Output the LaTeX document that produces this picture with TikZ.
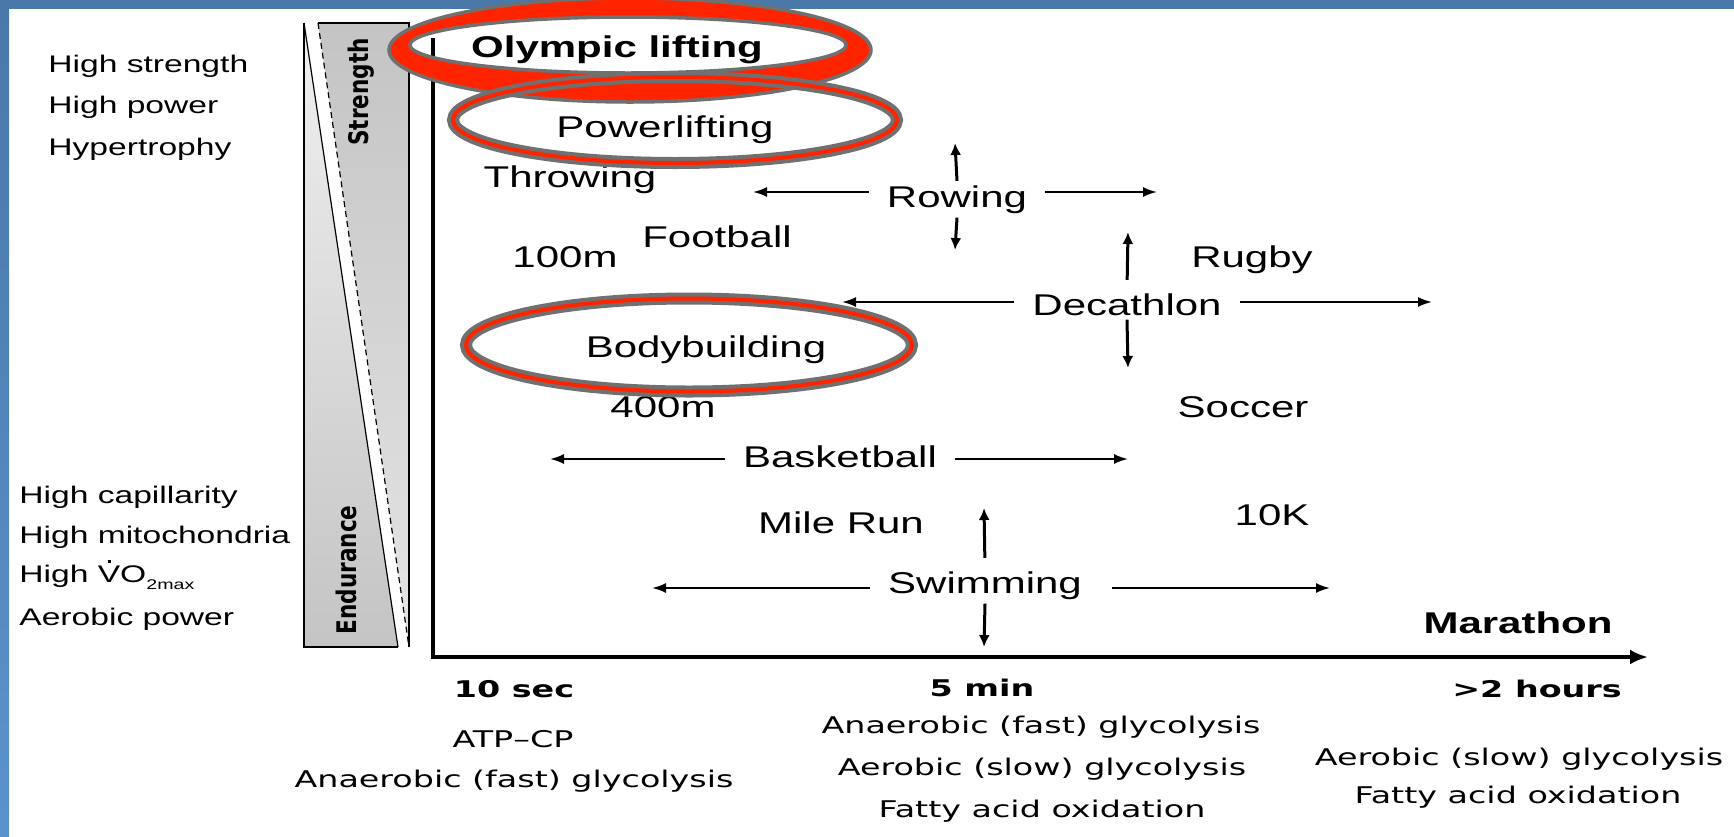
\documentclass[tikz,border=0pt]{standalone}
\usepackage{fontspec}
\setmainfont{Liberation Sans}[FakeStretch=1.4]
\newfontfamily\timefont{DejaVu Sans}[FakeStretch=1.45]
\newfontfamily\barfont{DejaVu Sans}
\usepackage{xcolor}
\definecolor{SlideBlue}{RGB}{74, 120, 168}
\definecolor{SlideBlueLight}{RGB}{92, 146, 204}
\definecolor{RingRed}{RGB}{255, 36, 0}
\definecolor{RingGray}{RGB}{112, 112, 112}
\definecolor{BarGray}{RGB}{196, 196, 196}
\usetikzlibrary{arrows.meta, calc}

\newcommand{\vodot}{\makebox[0pt][l]{\hspace{0.41em}\smash{\raisebox{0.8em}{\rule{1.5pt}{1.2pt}}}}VO\raisebox{-0.3em}{\fontsize{7}{8}\selectfont 2max}}

\begin{document}
\begin{tikzpicture}[
        x=0.5pt, y=-0.5pt,
        lbl/.style={font=\fontsize{15}{18}\selectfont, inner xsep=9pt, inner ysep=2pt, anchor=base},
        lblb/.style={lbl, font=\fontsize{15}{18}\selectfont\bfseries},
        side/.style={font=\fontsize{12}{14}\selectfont, anchor=base west, inner sep=0pt},
        time/.style={font=\timefont\bfseries\fontsize{11.5}{14}\selectfont, anchor=base, inner sep=0pt},
        fuel/.style={font=\timefont\fontsize{11.5}{14}\selectfont, anchor=base, inner sep=0pt},
        bartext/.style={font=\barfont\bfseries\fontsize{10.8}{13}\selectfont, rotate=90, inner sep=0pt},
        ring/.style={draw=RingGray, line width=2pt, double=RingRed, double distance=2pt},
        arr/.style={-{Latex[length=7pt, width=5pt]}, line width=1pt},
        varr/.style={-{Latex[length=6pt, width=5.5pt]}, line width=1.5pt},
        axis/.style={-{Latex[length=9pt, width=7.5pt]}, line width=2.2pt}
    ]
        \useasboundingbox (0,0) rectangle (1734,836);
        \fill[white] (0,0) rectangle (1734,836);

        % --- SLIDE FRAME ---
        \fill[SlideBlue] (0,0) rectangle (1734,9);
        \shade[top color=SlideBlue, bottom color=SlideBlueLight] (0,0) rectangle (9,836);

        % --- STRENGTH / ENDURANCE BAR ---
        \shade[top color=BarGray, bottom color=BarGray!45] (318,23) -- (409,23) -- (409,647) -- cycle;
        \shade[top color=BarGray!25, bottom color=BarGray] (304,23) -- (304,647) -- (398,647) -- cycle;
        \draw[line width=0.6pt] (318,23) -- (409,23) -- (409,647);
        \draw[line width=0.6pt] (304,23) -- (304,647) -- (398,647);
        \draw[line width=0.6pt] (304,23) -- (398,647);
        \draw[line width=0.6pt, dash pattern=on 3pt off 2pt] (318,23) -- (409,647);
        \node[bartext] (strength) at (361,92) {\scalebox{1}[1.25]{Strength}};
        \node[bartext] (endurance) at (346,570) {\scalebox{1}[1.25]{Endurance}};

        % --- FIBRE PROPERTIES ---
        \node[side] (hstr) at (48,72) {High strength};
        \node[side] (hpow) at (48,113) {High power};
        \node[side] (hyp) at (48,155) {Hypertrophy};
        \node[side] (hcap) at (19,503) {High capillarity};
        \node[side] (hmit) at (19,543) {High mitochondria};
        \node[side] (hvo) at (19,582) {High \vodot};
        \node[side] (aerp) at (19,625) {Aerobic power};

        % --- AXES ---
        \coordinate (axTop) at (433,38);
        \coordinate (axOrig) at (433,657);
        \coordinate (axEnd) at (1648,657);
        \draw[axis] (axTop) -- (axOrig) -- (axEnd);

        % --- SPORTS ---
        \node[lblb] (olympic) at (617,57) {Olympic lifting};
        \node[lbl] (power) at (665,137) {Powerlifting};
        \node[lbl] (throw) at (570,187) {Throwing};
        \node[lbl] (rowing) at (957,207) {Rowing};
        \node[lbl] (football) at (717,247) {Football};
        \node[lbl] (hundred) at (565,267) {100m};
        \node[lbl] (rugby) at (1252,267) {Rugby};
        \node[lbl] (deca) at (1127,315) {Decathlon};
        \node[lbl] (body) at (706,357) {Bodybuilding};
        \node[lbl] (fourh) at (663,417) {400m};
        \node[lbl] (soccer) at (1243,417) {Soccer};
        \node[lbl] (basket) at (840,467) {Basketball};
        \node[lbl] (mile) at (841,533) {Mile Run};
        \node[lbl] (tenk) at (1272,525) {10K};
        \node[lbl] (swim) at (985,593) {Swimming};
        \node[lblb] (marathon) at (1518,633) {Marathon};

        % --- RANGES ---
        \coordinate (rowL) at (753,192);
        \coordinate (rowR) at (1157,192);
        \coordinate (rowU) at (955,143);
        \coordinate (rowD) at (955,250);
        \draw[arr] (rowing.west |- rowL) -- (rowL);
        \draw[arr] (rowing.east |- rowR) -- (rowR);
        \draw[varr] (rowing.north) -- (rowU);
        \draw[varr] (rowing.south) -- (rowD);

        \coordinate (decL) at (842,302);
        \coordinate (decR) at (1432,302);
        \coordinate (decU) at (1128,232);
        \coordinate (decD) at (1128,368);
        \draw[arr] (deca.west |- decL) -- (decL);
        \draw[arr] (deca.east |- decR) -- (decR);
        \draw[varr, shorten <=4.5pt] (deca.north) -- (decU);
        \draw[varr] (deca.south) -- (decD);

        \coordinate (bbL) at (550,459);
        \coordinate (bbR) at (1128,459);
        \draw[arr] (basket.west |- bbL) -- (bbL);
        \draw[arr] (basket.east |- bbR) -- (bbR);

        \coordinate (swL) at (652,588);
        \coordinate (swR) at (1330,588);
        \coordinate (swU) at (984,508);
        \coordinate (swD) at (984,647);
        \draw[arr] (swim.west |- swL) -- (swL);
        \draw[arr, shorten <=6pt] (swim.east |- swR) -- (swR);
        \draw[varr, shorten <=4.5pt] (swim.north) -- (swU);
        \draw[varr] (swim.south) -- (swD);

        % --- HIGHLIGHTS ---
        \fill[RingRed, even odd rule] (630,50) ellipse [x radius=120.5pt, y radius=26pt]
            (628,45) ellipse [x radius=109pt, y radius=14pt];
        \draw[RingGray, line width=1.75pt] (630,50) ellipse [x radius=120.5pt, y radius=26pt]
            (628,45) ellipse [x radius=109pt, y radius=14pt];
        \draw[ring] (675,120) ellipse [x radius=111pt, y radius=21.5pt];
        \draw[ring] (689,345) ellipse [x radius=111.5pt, y radius=23.25pt];

        % --- ENERGY SYSTEMS ---
        \node[time] (t10s) at (514,697) {10 sec};
        \node[time] (t5m) at (982,696) {5 min};
        \node[time] (t2h) at (1537,697) {>2 hours};
        \node[fuel] (atp) at (513,747) {ATP–CP};
        \node[fuel] (anaA) at (514,787) {Anaerobic (fast) glycolysis};
        \node[fuel] (anaB) at (1041,733) {Anaerobic (fast) glycolysis};
        \node[fuel] (aerB) at (1042,775) {Aerobic (slow) glycolysis};
        \node[fuel] (fatB) at (1042,817) {Fatty acid oxidation};
        \node[fuel] (aerC) at (1519,765) {Aerobic (slow) glycolysis};
        \node[fuel] (fatC) at (1518,803) {Fatty acid oxidation};

    \end{tikzpicture}
\end{document}
